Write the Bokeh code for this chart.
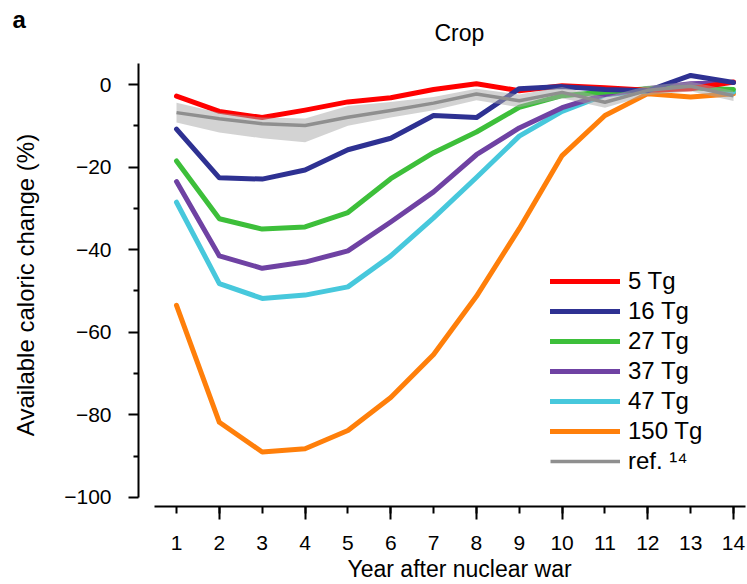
from bokeh.plotting import figure
from bokeh.models import FixedTicker, Legend, LegendItem, Range1d, Title
from bokeh.embed import file_html
from bokeh.resources import INLINE

# ---- data ----
years = list(range(1, 15))
tg5 = [-2.8, -6.5, -8.0, -6.2, -4.2, -3.2, -1.2, 0.2, -1.5, -0.3, -0.8, -1.4, -1.0, 0.6]
tg16 = [-10.8, -22.6, -22.9, -20.7, -15.8, -13.0, -7.5, -8.0, -1.0, -0.5, -1.2, -1.5, 2.2, 0.5]
tg27 = [-18.5, -32.5, -35.0, -34.5, -31.0, -22.8, -16.5, -11.5, -5.5, -2.7, -1.8, -1.0, -0.8, -1.2]
tg37 = [-23.5, -41.5, -44.5, -43.0, -40.3, -33.3, -26.0, -17.0, -10.5, -5.6, -2.4, -1.0, 0.2, 0.5]
tg47 = [-28.5, -48.2, -51.8, -51.0, -49.0, -41.5, -32.3, -22.5, -12.5, -6.5, -2.5, -1.5, -0.5, -1.8]
tg150 = [-53.5, -81.8, -89.0, -88.2, -83.8, -75.8, -65.4, -51.3, -34.9, -17.2, -7.5, -2.2, -3.0, -2.2]
ref = [-6.8, -8.3, -9.5, -9.9, -7.9, -6.3, -4.5, -2.3, -3.9, -1.9, -4.3, -1.4, -0.4, -2.7]
ref_lo = [-9.2, -11.6, -13.0, -14.0, -10.0, -8.0, -6.2, -3.8, -5.5, -3.3, -5.6, -2.6, -1.6, -4.0]
ref_hi = [-4.4, -6.8, -8.0, -8.2, -5.2, -4.2, -3.0, -1.0, -2.4, -0.6, -3.0, -0.3, 0.7, -1.5]

series_labels = ["5 Tg", "16 Tg", "27 Tg", "37 Tg", "47 Tg", "150 Tg"]
series_values = [tg5, tg16, tg27, tg37, tg47, tg150]
series_colors = ["#ff0000", "#2e3192", "#3dbf3a", "#6f42a3", "#47c8dc", "#ff7f0a"]
ref_label = "ref. \u00b9\u2074"

y_ticks = [-100, -80, -60, -40, -20, 0]
y_minor = [-90, -70, -50, -30, -10]
y_tick_labels = {t: ("\u2212" + str(-t) if t < 0 else str(t)) for t in y_ticks}
x_long = [2, 4, 6, 8, 10, 12, 14]

FONT = "Liberation Sans"

p = figure(width=747, height=584,
           x_range=Range1d(0.113, 14.28), y_range=Range1d(-102.2, 5.1),
           output_backend="svg", toolbar_location=None,
           min_border_left=138, min_border_right=2,
           min_border_top=63, min_border_bottom=78)
p.title_location = None
p.outline_line_color = None
p.grid.visible = False

# titles: "Crop" (nearest the frame) and panel letter "a"
t_crop = Title(text="Crop", align="left", offset=296, standoff=35,
               text_font=FONT, text_font_size="23px", text_font_style="normal",
               text_color="black")
p.add_layout(t_crop, "above")
t_a = Title(text="a", align="left", offset=-126, standoff=-65,
            text_font=FONT, text_font_size="24px", text_font_style="bold",
            text_color="black")
p.add_layout(t_a, "above")

# x axis
xa = p.xaxis[0]
xa.ticker = FixedTicker(ticks=years, minor_ticks=x_long)
xa.bounds = (0.49, 14.28)
xa.axis_line_width = 2
xa.major_tick_line_width = 2
xa.minor_tick_line_width = 2
xa.major_tick_in = 0
xa.major_tick_out = 7
xa.minor_tick_in = 0
xa.minor_tick_out = 13
xa.major_label_standoff = 16
xa.major_label_text_font = FONT
xa.major_label_text_font_size = "21px"
xa.major_label_text_color = "black"

t_x = Title(text="Year after nuclear war", align="left", offset=209, standoff=2,
            text_font=FONT, text_font_size="23px", text_font_style="normal",
            text_color="black")
p.add_layout(t_x, "below")

# y axis
ya = p.yaxis[0]
ya.ticker = FixedTicker(ticks=y_ticks, minor_ticks=y_minor)
ya.major_label_overrides = y_tick_labels
ya.bounds = (-100, 5.1)
ya.axis_line_width = 2
ya.major_tick_line_width = 2
ya.minor_tick_line_width = 2
ya.major_tick_in = 0
ya.major_tick_out = 10
ya.minor_tick_in = 0
ya.minor_tick_out = 5
ya.major_label_standoff = 17
ya.major_label_text_font = FONT
ya.major_label_text_font_size = "21px"
ya.major_label_text_color = "black"
ya.axis_label = "Available caloric change (%)"
ya.axis_label_text_font = FONT
ya.axis_label_text_font_size = "24px"
ya.axis_label_text_font_style = "normal"
ya.axis_label_text_color = "black"
ya.axis_label_standoff = 22

renderers = {}
draw_order = [5, 4, 3, 2, 0, 1]
for i in draw_order:
    renderers[i] = p.line(years, series_values[i], line_color=series_colors[i],
                          line_width=5, line_join="round", line_cap="round")

# reference band (translucent, over the lines) + reference line
p.varea(x=years, y1=ref_lo, y2=ref_hi, fill_color="#a8a8a8", fill_alpha=0.5)
r_ref = p.line(years, ref, line_color="#8f8f8f", line_width=3.5, line_join="round")

items = [LegendItem(label=series_labels[i], renderers=[renderers[i]]) for i in range(6)]
items.append(LegendItem(label=ref_label, renderers=[r_ref]))
legend = Legend(items=items, location=(412, 30), glyph_width=70, glyph_height=30,
                label_height=30, label_standoff=8, spacing=0, padding=0, margin=0,
                border_line_alpha=0, background_fill_alpha=0,
                label_text_font=FONT, label_text_font_size="24px",
                label_text_color="black")
p.add_layout(legend)

open("out.html", "w").write(file_html(p, INLINE))
